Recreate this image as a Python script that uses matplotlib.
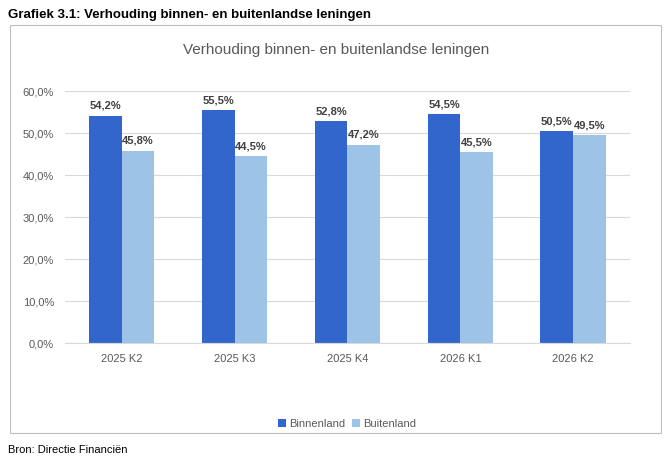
import numpy as np
import matplotlib.pyplot as plt
from matplotlib.patches import Rectangle

plt.rcParams['font.family'] = ['Liberation Sans', 'DejaVu Sans']

categories = ['2025 K2', '2025 K3', '2025 K4', '2026 K1', '2026 K2']
binnenland = [54.2, 55.5, 52.8, 54.5, 50.5]
buitenland = [45.8, 44.5, 47.2, 45.5, 49.5]

dark = '#3366CC'
light = '#9DC3E6'

fig = plt.figure(figsize=(6.72, 4.63), dpi=100)
fig.text(0.012, 0.968, 'Grafiek 3.1: Verhouding binnen- en buitenlandse leningen',
         fontsize=9.5, fontweight='bold', va='center')
fig.patches.append(Rectangle((0.015, 0.065), 0.968, 0.88, transform=fig.transFigure,
                             fill=False, edgecolor='#bfbfbf', linewidth=0.8))
fig.text(0.5, 0.893, 'Verhouding binnen- en buitenlandse leningen',
         fontsize=11, color='#595959', ha='center', va='center')
fig.text(0.012, 0.028, 'Bron: Directie Financiën', fontsize=8, va='center')

ax = fig.add_axes([0.097, 0.259, 0.84, 0.544])
x = np.arange(len(categories))
w = 0.29
b1 = ax.bar(x - w / 2, binnenland, w, color=dark, label='Binnenland')
b2 = ax.bar(x + w / 2, buitenland, w, color=light, label='Buitenland')
for bars in (b1, b2):
    for r in bars:
        ax.text(r.get_x() + r.get_width() / 2, r.get_height() + 1.2,
                f'{r.get_height():.1f}%'.replace('.', ','), ha='center', va='bottom',
                fontsize=8, fontweight='bold', color='#404040')

ax.set_ylim(0, 60)
ax.set_xlim(-0.5, 4.5)
ax.set_yticks(np.arange(0, 61, 10))
ax.set_yticklabels([f'{v:.1f}%'.replace('.', ',') for v in range(0, 61, 10)])
ax.set_xticks(x)
ax.set_xticklabels(categories)
ax.tick_params(length=0, labelsize=8, colors='#595959', pad=8)
ax.grid(axis='y', color='#d9d9d9', linewidth=0.8)
ax.set_axisbelow(True)
for s in ['top', 'right', 'left']:
    ax.spines[s].set_visible(False)
ax.spines['bottom'].set_color('#d9d9d9')

ax.legend(loc='center', bbox_to_anchor=(0.5, -0.32), ncol=2, frameon=False,
          fontsize=8, handlelength=0.7, handleheight=0.7, columnspacing=0.6,
          handletextpad=0.3, labelcolor='#595959')

fig.savefig('out.png', dpi=100)
